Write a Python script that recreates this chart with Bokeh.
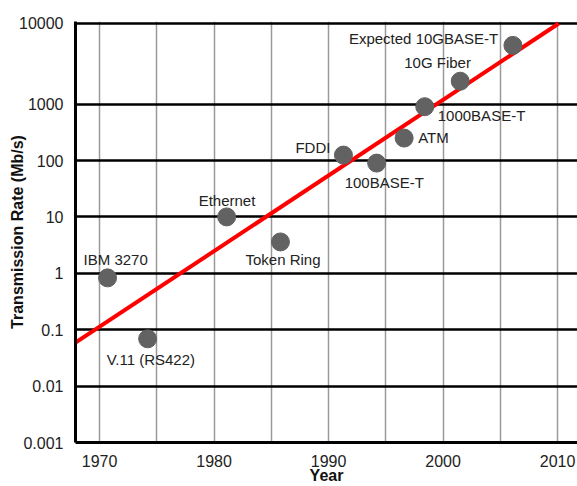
from bokeh.plotting import figure
from bokeh.models import Range1d, FixedTicker, CustomJSTickFormatter
from bokeh.embed import file_html
from bokeh.resources import INLINE
from bokeh.core.properties import value

# ---- data ----
technologies = ["IBM 3270", "V.11 (RS422)", "Ethernet", "Token Ring", "FDDI",
                "100BASE-T", "ATM", "1000BASE-T", "10G Fiber", "Expected 10GBASE-T"]
years = [1970.7, 1974.2, 1981.1, 1985.8, 1991.3, 1994.2, 1996.6, 1998.4, 2001.5, 2006.1]
rates = [0.83, 0.069, 10.0, 3.6, 125.0, 90.0, 250.0, 900.0, 2550.0, 11000.0]

trend_years = [1967.9, 2010.1]
trend_rates = [0.059, 26900.0]

x_tick_years = [1970, 1980, 1990, 2000, 2010]
x_grid_years = [1970, 1975, 1980, 1985, 1990, 1995, 2000, 2005, 2010]
y_tick_values = [0.001, 0.01, 0.1, 1, 10, 100, 1000, 26900.0]   # top line drawn at chart top
y_tick_labels = ["0.001", "0.01", "0.1", "1", "10", "100", "1000", "10000"]

x_title = "Year"
y_title = "Transmission Rate (Mb/s)"

# ---- layout of labels relative to points (pixels) ----
label_dx = [-24, -41, -28, -35, -48, -32, 14, 13, -56, -164]
label_dy = [-18, 21, -16, 18, -8, 19, -1, 9, -19, -7]

FONT = "Liberation Sans"

p = figure(width=577, height=486, output_backend="svg", toolbar_location=None,
           x_range=Range1d(1967.9, 2011.74), y_range=Range1d(0.001, 10 ** 4.465),
           y_axis_type="log", min_border_left=75, min_border_right=0,
           min_border_top=21, min_border_bottom=43)
p.outline_line_color = None
p.background_fill_color = "white"
p.border_fill_color = "white"

# grids
p.xgrid.ticker = FixedTicker(ticks=x_grid_years)
p.xgrid.grid_line_color = "#9a9a9a"
p.xgrid.grid_line_width = 1.5
p.ygrid.ticker = FixedTicker(ticks=y_tick_values)
p.ygrid.grid_line_color = "black"
p.ygrid.grid_line_width = 2.5

# axes
p.xaxis.ticker = FixedTicker(ticks=x_tick_years)
p.yaxis.ticker = FixedTicker(ticks=y_tick_values)
p.yaxis.formatter = CustomJSTickFormatter(
    args=dict(vals=y_tick_values, labs=y_tick_labels),
    code="""
    let best = 0, bd = Infinity;
    for (let i = 0; i < vals.length; i++) {
        const d = Math.abs(Math.log10(vals[i]) - Math.log10(tick));
        if (d < bd) { bd = d; best = i; }
    }
    return labs[best];
    """)
for ax in (p.xaxis, p.yaxis):
    ax.axis_line_color = "black"
    ax.axis_line_width = 3
    ax.major_tick_line_color = None
    ax.minor_tick_line_color = None
    ax.major_label_text_font = FONT
    ax.major_label_text_font_size = "16px"
    ax.major_label_text_color = "#222222"
    ax.axis_label_text_font = FONT
    ax.axis_label_text_font_size = "16px"
    ax.axis_label_text_font_style = "bold"
    ax.axis_label_text_color = "#111111"
p.yaxis.major_label_standoff = 6
p.xaxis.major_label_standoff = 6

p.yaxis.axis_label = y_title
p.yaxis.axis_label_standoff = -10
p.xaxis.axis_label = x_title
p.xaxis.axis_label_standoff = -3

# trend line
p.line(trend_years, trend_rates, line_color="red", line_width=4)

# points
p.scatter(years, rates, size=18, fill_color="#626262", line_color="#626262")

# labels
p.text(x=years, y=rates, text=technologies, x_offset=label_dx, y_offset=label_dy,
       text_align="left", text_baseline="middle", text_font=value(FONT),
       text_font_size="15px", text_color="#222222")

open("out.html", "w").write(file_html(p, INLINE))
